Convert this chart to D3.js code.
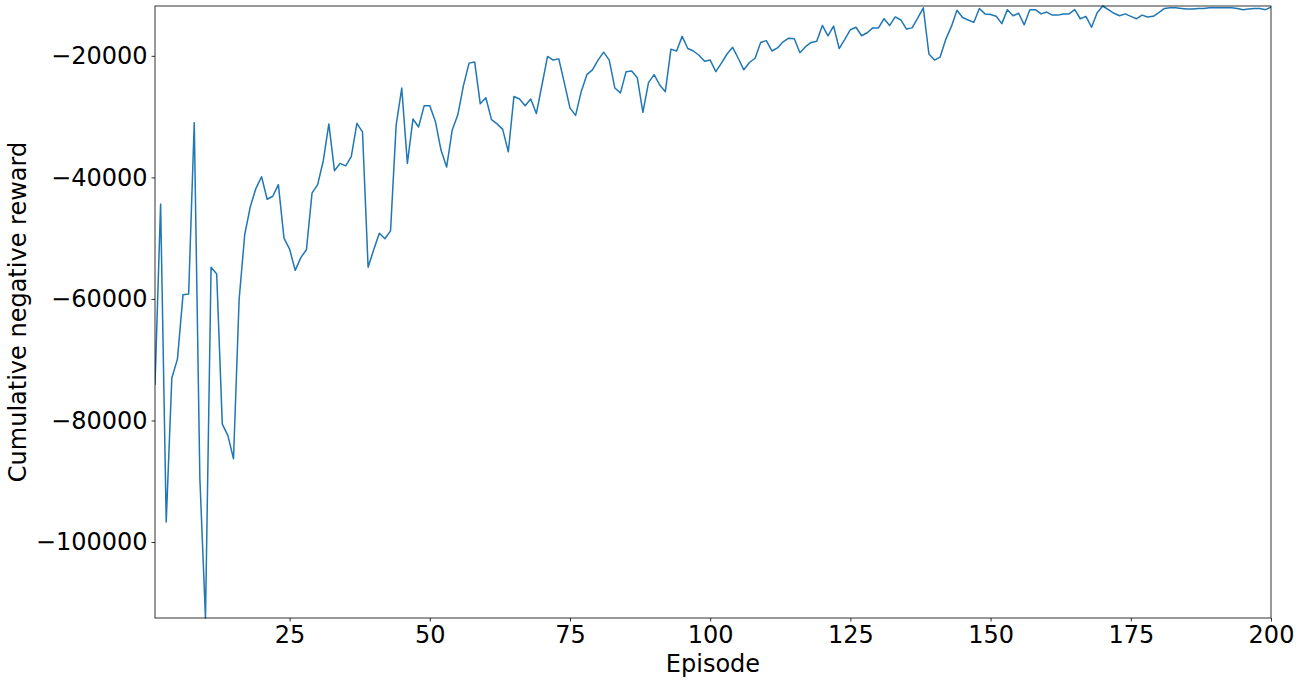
<!DOCTYPE html>
<html>
<head>
<meta charset="utf-8">
<script src="https://cdn.jsdelivr.net/npm/d3@7"></script>
<style>
  body { margin: 0; background: #fff; }
  text { font-family: "DejaVu Sans", sans-serif; }
</style>
</head>
<body>
<div id="chart"></div>
<script>
/* cumulative negative reward per episode */
var rewards = [
  -74100, -44400, -96700, -73000, -69900, -59300, -59200, -31000, -89500, -112500,
  -54800, -55900, -80600, -82500, -86300, -60100, -49400, -44800, -41800, -39900,
  -43600, -43100, -41200, -50000, -51800, -55300, -53200, -51900, -42600, -41200,
  -37300, -31200, -38900, -37700, -38100, -36600, -31100, -32500, -54800, -51900,
  -49200, -50100, -48800, -31400, -25300, -37700, -30400, -31700, -28200, -28200,
  -30800, -35500, -38300, -32200, -29700, -24900, -21200, -21000, -27900, -26900,
  -30500, -31200, -32100, -35800, -26700, -27100, -28200, -27100, -29500, -24800,
  -20100, -20700, -20500, -24500, -28600, -29800, -25900, -23100, -22300, -20700,
  -19400, -20700, -25300, -26100, -22600, -22500, -23600, -29300, -24400, -23100,
  -24800, -25900, -18900, -19200, -16800, -18800, -19200, -19900, -20900, -20700,
  -22600, -21200, -19700, -18600, -20400, -22300, -21100, -20400, -17800, -17500,
  -19200, -18700, -17700, -17100, -17200, -19500, -18500, -17800, -17600, -15000,
  -16700, -15100, -18800, -17300, -15700, -15300, -16700, -16200, -15400, -15400,
  -13900, -15000, -13600, -14100, -15600, -15400, -13800, -12100, -19700, -20700,
  -20200, -17300, -15200, -12500, -13700, -14100, -14500, -12200, -13100, -13200,
  -13500, -14700, -12400, -13400, -13000, -14900, -12400, -12400, -13100, -12800,
  -13300, -13300, -13100, -13100, -12400, -13900, -13500, -15300, -12900, -11800,
  -12400, -13000, -13400, -13100, -13500, -13900, -13300, -13600, -13500, -12900,
  -12200, -12100, -12100, -12200, -12300, -12300, -12200, -12200, -12100, -12100,
  -12100, -12100, -12100, -12200, -12400, -12300, -12200, -12200, -12400, -12000
];
var episodes = d3.range(1, rewards.length + 1);

var xTicks = [25, 50, 75, 100, 125, 150, 175, 200],
    yTicks = [-100000, -80000, -60000, -40000, -20000];

var xLabel = "Episode",
    yLabel = "Cumulative negative reward";

var width = 1300,
    height = 684,
    margin = { top: 6, right: 29, bottom: 66, left: 155 },
    fontSize = 24;

var innerW = width - margin.left - margin.right,
    innerH = height - margin.top - margin.bottom;

var svg = d3.select("#chart")
    .append("svg")
    .attr("width", width)
    .attr("height", height);

var g = svg.append("g")
    .attr("transform", "translate(" + margin.left + "," + margin.top + ")");

var x = d3.scaleLinear()
    .domain([1, 200])
    .range([0, innerW]);

var y = d3.scaleLinear()
    .domain(d3.extent(rewards))
    .range([innerH, 0]);

/* line */
var line = d3.line()
    .x(function(d, i) { return x(episodes[i]); })
    .y(function(d) { return y(d); });

g.append("clipPath")
    .attr("id", "clip")
    .append("rect")
    .attr("x", 0)
    .attr("y", -1)
    .attr("width", innerW)
    .attr("height", innerH + 2);

g.append("path")
    .datum(rewards)
    .attr("clip-path", "url(#clip)")
    .attr("fill", "none")
    .attr("stroke", "#1f77b4")
    .attr("stroke-width", 1.5)
    .attr("stroke-linejoin", "round")
    .attr("d", line);

/* axes */
var xAxis = g.append("g")
    .attr("transform", "translate(0," + innerH + ")")
    .call(d3.axisBottom(x)
        .tickValues(xTicks)
        .tickFormat(d3.format("d"))
        .tickSize(3.5)
        .tickPadding(4)
        .tickSizeOuter(0));

var yAxis = g.append("g")
    .call(d3.axisLeft(y)
        .tickValues(yTicks)
        .tickFormat(d3.format("d"))
        .tickSize(3.5)
        .tickPadding(4)
        .tickSizeOuter(0));

[xAxis, yAxis].forEach(function(a) {
    a.select(".domain").remove();
    a.selectAll("line").attr("stroke", "#000").attr("stroke-width", 0.8);
    a.selectAll("text")
        .attr("font-size", fontSize)
        .attr("font-family", "DejaVu Sans")
        .attr("fill", "#000");
});

/* frame */
g.append("rect")
    .attr("x", 0)
    .attr("y", 0)
    .attr("width", innerW)
    .attr("height", innerH)
    .attr("fill", "none")
    .attr("stroke", "#000")
    .attr("stroke-width", 0.8);

/* axis labels */
svg.append("text")
    .attr("x", margin.left + innerW / 2)
    .attr("y", 672)
    .attr("text-anchor", "middle")
    .attr("font-size", fontSize)
    .text(xLabel);

svg.append("text")
    .attr("transform", "translate(26," + (margin.top + innerH / 2) + ") rotate(-90)")
    .attr("text-anchor", "middle")
    .attr("font-size", fontSize)
    .text(yLabel);
</script>
</body>
</html>
